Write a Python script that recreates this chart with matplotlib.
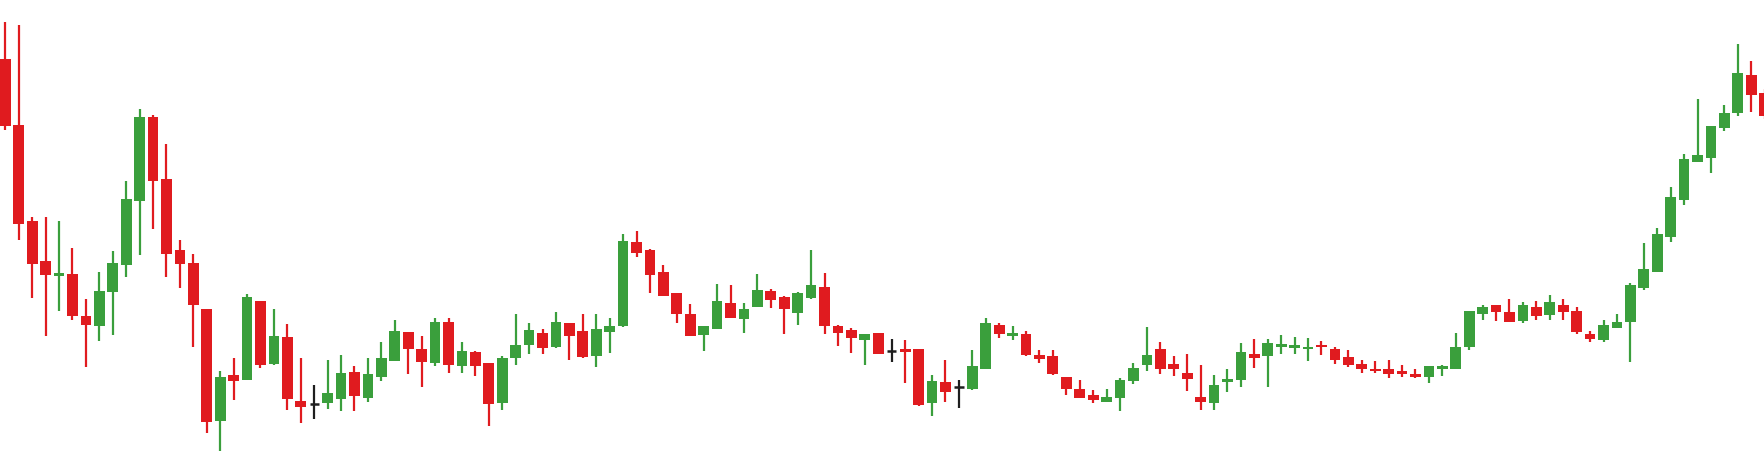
"""Candlestick chart, no axes, recreated from a reference picture."""

import numpy as np
import matplotlib
matplotlib.use("Agg")
import matplotlib.pyplot as plt

# Colours
_UP, _DOWN, _FLAT = "#3a9f3c", "#e01b1f", "#1e1e1e"

# ---------------------------------------------------------------------------
# OHLC data (arbitrary price units)
# ---------------------------------------------------------------------------
opens = [
    39.2, 32.6, 23.03, 19.0, 17.53, 17.7, 13.47, 12.53, 15.93, 18.63,
    25.03, 33.43, 27.2, 20.1, 18.8, 14.2, 3.03, 7.6, 7.13, 15.0,
    8.7, 11.4, 5.0, 4.73, 4.83, 5.23, 7.9, 5.33, 7.43, 9.03,
    11.9, 10.23, 8.83, 12.9, 8.53, 9.93, 8.83, 4.83, 9.33, 10.63,
    11.8, 10.43, 12.8, 12.0, 9.53, 11.93, 12.5, 20.9, 20.1, 17.9,
    15.83, 13.7, 11.63, 12.23, 14.8, 13.23, 14.43, 15.97, 15.37, 13.83,
    15.3, 16.4, 12.5, 12.1, 11.13, 11.8, 10.03, 10.23, 10.2, 4.83,
    6.93, 6.43, 6.23, 8.23, 12.6, 11.53, 11.7, 9.63, 9.53, 7.4,
    6.23, 5.63, 4.93, 5.33, 7.03, 8.63, 10.23, 8.73, 7.83, 5.43,
    4.83, 6.93, 7.13, 9.73, 9.53, 10.43, 10.33, 10.23, 10.63, 10.23,
    9.43, 8.73, 8.23, 8.23, 8.03, 7.73, 7.43, 8.23, 8.23, 10.43,
    13.7, 14.6, 13.9, 13.0, 14.4, 13.63, 14.6, 14.0, 11.73, 11.13,
    12.33, 12.93, 16.33, 17.93, 21.43, 25.13, 28.93, 29.33, 32.33, 33.83,
    37.6, 35.8,
]
highs = [
    42.93, 42.6, 23.37, 23.37, 23.03, 20.27, 15.2, 17.87, 19.97, 26.97,
    34.2, 33.6, 30.7, 21.13, 19.7, 14.2, 7.97, 9.3, 15.7, 15.0,
    14.2, 12.7, 9.3, 6.6, 9.1, 9.6, 8.5, 9.3, 10.93, 13.1,
    11.9, 11.5, 13.3, 13.3, 10.93, 10.03, 8.83, 9.53, 13.7, 12.8,
    12.2, 13.9, 12.8, 13.7, 13.7, 13.3, 21.7, 22.0, 20.2, 18.6,
    15.83, 14.7, 12.53, 16.7, 16.6, 14.8, 17.7, 16.2, 15.47, 15.87,
    20.13, 17.8, 12.6, 12.33, 11.7, 11.8, 11.2, 11.13, 10.2, 7.6,
    9.13, 7.1, 10.13, 13.3, 12.8, 12.5, 12.0, 10.13, 10.13, 7.4,
    7.13, 6.13, 6.23, 7.33, 8.83, 12.43, 10.93, 9.53, 9.73, 8.63,
    7.63, 8.23, 10.83, 11.23, 11.23, 11.63, 11.43, 11.33, 11.03, 10.43,
    10.13, 9.13, 9.03, 9.13, 8.63, 8.23, 8.53, 8.63, 11.83, 14.0,
    14.6, 14.6, 15.2, 14.9, 15.0, 15.6, 15.2, 14.4, 12.03, 13.1,
    13.7, 16.8, 20.8, 22.27, 26.37, 29.7, 35.23, 32.5, 34.57, 40.7,
    39.0, 36.2,
]
lows = [
    32.13, 21.13, 15.3, 11.53, 14.03, 13.13, 8.43, 11.03, 11.63, 17.37,
    19.6, 22.2, 17.43, 16.3, 10.43, 1.8, 0.0, 5.13, 7.13, 8.27,
    8.63, 4.13, 2.83, 3.2, 4.23, 4.03, 4.03, 4.93, 7.03, 9.03,
    7.73, 6.43, 8.53, 7.83, 7.83, 7.53, 2.53, 4.13, 8.63, 9.73,
    9.73, 10.33, 9.13, 9.33, 8.43, 9.83, 12.43, 19.43, 15.83, 15.53,
    12.83, 11.53, 10.03, 12.23, 13.33, 11.83, 14.43, 14.3, 11.73, 12.63,
    15.23, 11.73, 10.53, 9.83, 8.63, 9.73, 8.93, 6.83, 4.47, 3.53,
    4.93, 4.33, 6.13, 8.23, 11.33, 11.13, 9.53, 8.83, 7.63, 5.63,
    5.33, 4.83, 4.93, 4.03, 6.73, 8.03, 7.73, 7.53, 6.03, 4.13,
    4.13, 5.93, 6.43, 8.33, 6.43, 9.73, 9.73, 9.03, 9.63, 8.73,
    8.43, 7.83, 7.83, 7.33, 7.43, 7.33, 6.83, 7.53, 8.23, 10.13,
    13.1, 13.0, 12.93, 12.83, 13.13, 13.13, 13.13, 11.73, 10.93, 10.93,
    12.33, 8.93, 16.13, 17.93, 20.93, 24.63, 28.93, 27.83, 32.03, 33.53,
    33.93, 33.2,
]
closes = [
    32.53, 22.7, 18.7, 17.6, 17.8, 13.53, 12.63, 15.97, 18.8, 25.2,
    33.43, 27.03, 19.7, 18.7, 14.63, 2.93, 7.37, 7.03, 15.43, 8.63,
    11.5, 5.23, 4.43, 4.73, 5.8, 7.8, 5.53, 7.7, 9.3, 12.0,
    10.23, 8.93, 12.9, 8.63, 10.03, 8.53, 4.73, 9.33, 10.6, 12.1,
    10.33, 12.9, 11.53, 9.43, 12.2, 12.5, 21.0, 19.83, 17.63, 15.53,
    13.73, 11.53, 12.5, 15.0, 13.33, 14.2, 16.1, 15.13, 14.23, 15.77,
    16.6, 12.53, 11.83, 11.33, 11.7, 9.73, 10.03, 9.93, 4.63, 7.03,
    5.93, 6.43, 8.53, 12.8, 11.73, 11.83, 9.63, 9.23, 7.73, 6.23,
    5.33, 5.13, 5.4, 7.13, 8.33, 9.63, 8.23, 8.23, 7.23, 4.93,
    6.63, 7.23, 9.93, 9.33, 10.83, 10.73, 10.63, 10.43, 10.43, 9.13,
    8.63, 8.23, 8.03, 7.73, 7.73, 7.43, 8.53, 8.53, 10.43, 14.0,
    14.4, 13.93, 12.93, 14.6, 13.53, 14.9, 13.93, 11.93, 11.23, 12.6,
    12.9, 16.6, 18.2, 21.7, 25.4, 29.2, 29.6, 32.5, 33.8, 37.8,
    35.63, 33.53,
]


def plot_candles(ax, o, h, l, c, body_w=0.8, tick_w=0.7):
    """Draw wicks, bodies and doji ticks for every bar."""
    o, h, l, c = map(np.asarray, (o, h, l, c))
    x = np.arange(len(o))
    colors = np.where(c > o, _UP, np.where(c < o, _DOWN, _FLAT))

    ax.vlines(x, l, h, colors=colors, lw=1.6, zorder=1)

    moving = c != o
    bottom = np.minimum(o, c)
    height = np.abs(c - o)
    ax.bar(x[moving], height[moving], bottom=bottom[moving], width=body_w,
           color=colors[moving], edgecolor="none", zorder=2)

    flat = ~moving
    ax.hlines(o[flat], x[flat] - tick_w / 2, x[flat] + tick_w / 2,
              colors=colors[flat], lw=1.8, zorder=2)


fig = plt.figure(figsize=(17.64, 4.52), dpi=100, facecolor="white")
ax = fig.add_axes([0, 0, 1, 1])
plot_candles(ax, opens, highs, lows, closes)
ax.set_xlim(-0.395, 130.95)
ax.set_ylim(0, 45.2)
ax.axis("off")
fig.savefig("out.png", dpi=100, facecolor="white")
